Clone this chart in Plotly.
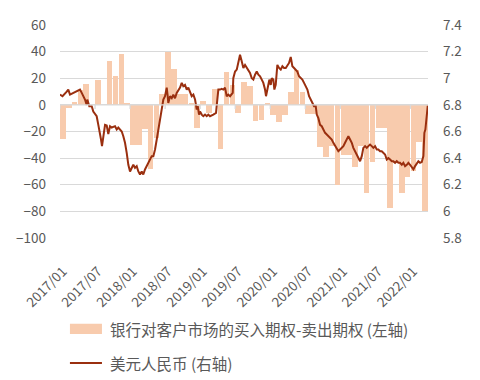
import plotly.graph_objects as go

# ---- data ----
tick_labels = ["2017/01", "2017/07", "2018/01", "2018/07", "2019/01", "2019/07",
               "2020/01", "2020/07", "2021/01", "2021/07", "2022/01"]

# monthly bars 2017/01 .. 2022/03 (left axis)
option_net = [
    -26, -2, 2, 11, 16, 0, 19, 0, 33, 21.5, 38.5, 1,          # 2017
    -30, -30.5, -18, -48, -25, 8, 40, 27, 8, 8, 1, -17,      # 2018
    3, -6, 12, -33, 25, 15, -6, 17.5, 14, -12, -11, 1.5,     # 2019
    -7.5, -12.5, -7.5, 10, 26, 9.5, -7, -7, -32, -39.5, -31, -60,  # 2020
    -38, -38, -47, -31, -66, -43, -17, -17.5, -77.5, -44, -66, -54,  # 2021
    -50, -28, -80,                                             # 2022
]

# USD/CNY (right axis); position in months from 2017/01
usd_t = [0.00, 0.43, 1.15, 1.42, 1.71, 2.28, 2.86, 3.42, 3.72, 3.99, 4.28, 4.57, 4.67, 5.02,
         5.43, 5.70, 6.28, 6.56, 6.85, 7.02, 7.19, 7.41, 7.71, 8.00, 8.27, 8.56, 8.85, 9.42,
         9.71, 9.98, 10.27, 10.57, 10.84, 11.13, 11.42, 11.70, 11.99, 12.28, 12.55, 12.84,
         13.13, 13.41, 13.70, 13.99, 14.26, 14.55, 14.85, 15.12, 15.41, 15.70, 15.98, 16.27,
         16.56, 16.83, 17.12, 17.41, 17.69, 17.98, 18.27, 18.44, 18.54, 18.84, 19.13, 19.40,
         19.69, 19.98, 20.55, 20.84, 21.11, 21.40, 21.70, 21.97, 22.26, 22.55, 22.83, 23.12,
         23.41, 23.58, 23.80, 23.97, 24.26, 24.54, 24.83, 25.12, 25.39, 25.68, 26.25, 26.71,
         26.93, 27.11, 27.40, 27.69, 27.96, 28.25, 28.54, 28.82, 29.11, 29.40, 29.57, 29.67,
         29.97, 30.26, 30.43, 30.60, 30.82, 31.11, 31.39, 31.68, 31.97, 32.24, 32.53, 32.83,
         33.10, 33.39, 33.68, 33.96, 34.25, 34.54, 34.81, 35.10, 35.27, 35.50, 35.84, 36.08,
         36.25, 36.52, 36.70, 36.93, 37.21, 37.50, 37.79, 38.07, 38.36, 38.65, 38.92, 39.21,
         39.50, 39.78, 40.07, 40.36, 40.63, 40.92, 41.22, 41.49, 41.78, 42.07, 42.35, 42.64,
         42.93, 43.20, 43.49, 43.78, 43.96, 44.23, 44.52, 44.81, 45.08, 45.38, 45.67, 45.94,
         46.23, 46.52, 46.80, 47.09, 47.38, 47.65, 47.95, 48.24, 48.51, 48.80, 49.09, 49.37,
         49.66, 49.95, 50.22, 50.51, 50.80, 51.08, 51.37, 51.66, 51.93, 52.23, 52.52, 52.79,
         53.08, 53.37, 53.65, 53.94, 54.23, 54.50, 54.79, 55.08, 55.36, 55.65, 55.94, 56.22,
         56.51, 56.80, 57.07, 57.36, 57.65, 57.93, 58.22, 58.51, 58.78, 59.08, 59.37, 59.64,
         59.93, 60.22, 60.50, 60.79, 61.08, 61.35, 61.64, 61.93, 62.21, 62.38, 62.55, 62.67,
         62.79, 62.96]
usd_cny = [6.877, 6.865, 6.90, 6.915, 6.877, 6.89, 6.90, 6.915, 6.89, 6.865, 6.84, 6.80, 6.84, 6.79,
           6.79, 6.75, 6.715, 6.65, 6.59, 6.54, 6.49, 6.565, 6.65, 6.645, 6.58, 6.64, 6.63, 6.64,
           6.615, 6.63, 6.615, 6.60, 6.565, 6.515, 6.44, 6.35, 6.30, 6.327, 6.35, 6.327,
           6.34, 6.30, 6.277, 6.30, 6.277, 6.315, 6.34, 6.365, 6.39, 6.415, 6.415, 6.465,
           6.54, 6.615, 6.715, 6.79, 6.84, 6.865, 6.93, 6.865, 6.815, 6.865, 6.85, 6.877,
           6.85, 6.89, 6.93, 6.965, 6.94, 6.95, 6.915, 6.93, 6.90, 6.865, 6.877, 6.84,
           6.765, 6.79, 6.727, 6.75, 6.727, 6.715, 6.727, 6.715, 6.727, 6.715, 6.727, 6.74,
           6.84, 6.915, 6.915, 6.92, 6.915, 6.93, 6.865, 6.877, 6.865, 6.877, 6.89, 7.00,
           7.05, 7.065, 7.10, 7.15, 7.177, 7.127, 7.077, 7.10, 7.077, 7.065, 7.04, 7.00,
           6.99, 7.027, 7.05, 7.027, 7.015, 6.99, 6.965, 6.915, 6.865, 6.915, 6.99, 6.95,
           7.00, 6.99, 6.915, 6.95, 7.10, 7.077, 7.065, 7.09, 7.077, 7.077, 7.10, 7.115,
           7.16, 7.09, 7.077, 7.065, 7.05, 7.015, 7.00, 6.99, 6.965, 6.94, 6.915, 6.865,
           6.84, 6.827, 6.79, 6.79, 6.727, 6.70, 6.65, 6.64, 6.615, 6.59, 6.578, 6.565,
           6.552, 6.54, 6.515, 6.49, 6.47, 6.452, 6.465, 6.477, 6.49, 6.515, 6.54, 6.565,
           6.54, 6.515, 6.477, 6.452, 6.427, 6.40, 6.377, 6.415, 6.477, 6.49, 6.477, 6.49,
           6.502, 6.49, 6.477, 6.49, 6.465, 6.465, 6.452, 6.452, 6.44, 6.427, 6.39, 6.40,
           6.39, 6.377, 6.377, 6.365, 6.377, 6.365, 6.365, 6.35, 6.365, 6.34, 6.35, 6.365,
           6.35, 6.327, 6.315, 6.34, 6.365, 6.377, 6.365, 6.37, 6.415, 6.59, 6.615, 6.665,
           6.74, 6.795]

bar_name = "银行对客户市场的买入期权-卖出期权 (左轴)"
line_name = "美元人民币 (右轴)"

# ---- style ----
BAR_COLOR = "#F8CBAD"
LINE_COLOR = "#9A2F0F"
GRID = "#D9D9D9"
TXT = "#595959"
FONT = "Noto Sans CJK SC, sans-serif"

bar_x = [i + 0.5 for i in range(len(option_net))]
tick_pos = [bar_x[i * 6] for i in range(len(tick_labels))]

fig = go.Figure()
fig.add_trace(go.Bar(x=bar_x, y=option_net, width=0.96, marker=dict(color=BAR_COLOR, line=dict(width=0)),
                     name=bar_name, yaxis="y"))
fig.add_trace(go.Scatter(x=usd_t, y=usd_cny, mode="lines", line=dict(color=LINE_COLOR, width=2),
                         name=line_name, yaxis="y2"))

# category axis line at zero, drawn over the bars, with small boundary ticks
fig.add_shape(type="line", xref="paper", x0=0, x1=1, yref="y", y0=0, y1=0,
              line=dict(color=GRID, width=1.3), layer="above")
for p in tick_pos:
    fig.add_shape(type="line", xref="x", x0=p - 0.5, x1=p - 0.5, yref="y",
                  ysizemode="pixel", yanchor=0, y0=0, y1=-4,
                  line=dict(color=GRID, width=1.3), layer="above")

# legend (drawn manually below the plot)
LEG_X0, LEG_X1, LEG_TX = 0.027, 0.114, 0.13
LEG_Y1, LEG_Y2 = -0.427, -0.587
fig.add_shape(type="rect", xref="paper", yref="paper", x0=LEG_X0, x1=LEG_X1,
              y0=LEG_Y1 - 0.024, y1=LEG_Y1 + 0.024, fillcolor=BAR_COLOR, line=dict(width=0))
fig.add_shape(type="line", xref="paper", yref="paper", x0=LEG_X0, x1=LEG_X1,
              y0=LEG_Y2, y1=LEG_Y2, line=dict(color=LINE_COLOR, width=2))
fig.add_annotation(text=bar_name, xref="paper", yref="paper", x=LEG_TX, y=LEG_Y1,
                   xanchor="left", yanchor="middle", showarrow=False,
                   font=dict(size=15.5, color=TXT))
fig.add_annotation(text=line_name, xref="paper", yref="paper", x=LEG_TX, y=LEG_Y2,
                   xanchor="left", yanchor="middle", showarrow=False,
                   font=dict(size=15.5, color=TXT))

# the page adds an 8px body margin, so the figure is 8px smaller than the window
fig.update_layout(
    width=472, height=372,
    margin=dict(l=52, r=52, t=17, b=142),
    paper_bgcolor="white", plot_bgcolor="white",
    font=dict(family=FONT, color=TXT, size=13),
    showlegend=False,
    xaxis=dict(range=[0, 63], tickvals=tick_pos, ticktext=tick_labels, tickangle=-45,
               showgrid=False, zeroline=False, showline=False, ticks="", automargin=False,
               ticklabelstandoff=22, tickfont=dict(size=13.5, color=TXT)),
    yaxis=dict(range=[-100, 60], dtick=20, tick0=0, showgrid=True, gridcolor=GRID, gridwidth=1.3,
               zeroline=False, showline=False, ticks="", ticklabelstandoff=13, automargin=False,
               tickfont=dict(size=13.5, color=TXT)),
    yaxis2=dict(range=[5.8, 7.4], tick0=5.8, dtick=0.2, overlaying="y", side="right",
                showgrid=False, zeroline=False, showline=False, ticks="", ticklabelstandoff=14,
                automargin=False, tickfont=dict(size=13.5, color=TXT)),
    bargap=0,
)

fig.write_html("out.html")
